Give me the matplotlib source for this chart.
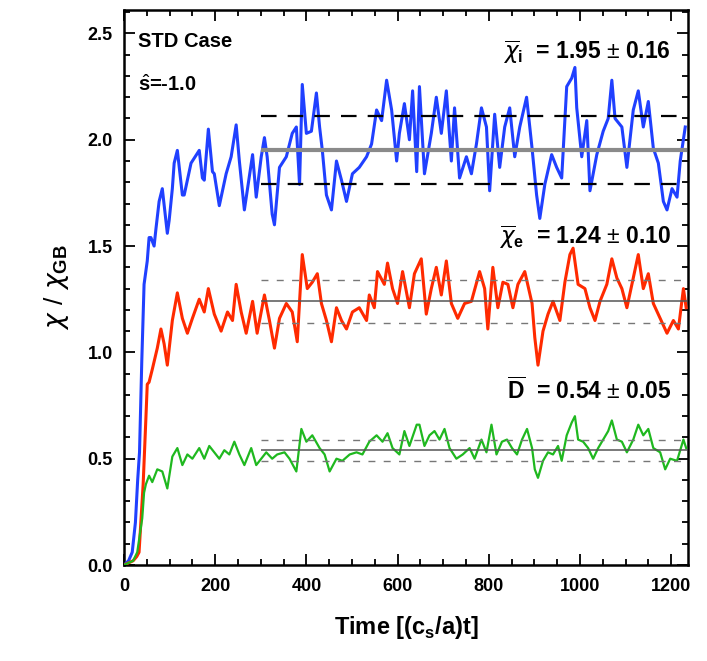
import numpy as np
import matplotlib
matplotlib.use('Agg')
from matplotlib import pyplot as plt
from matplotlib.ticker import MultipleLocator

plt.rcParams['font.family'] = ['Liberation Sans', 'DejaVu Sans']
plt.rcParams['mathtext.fontset'] = 'custom'
plt.rcParams['mathtext.rm'] = 'Liberation Sans'
plt.rcParams['mathtext.bf'] = 'Liberation Sans:bold'

# ion heat diffusivity chi_i / chi_GB
t_chi_i = [0, 10, 18, 25, 30, 34, 39, 44, 51, 55, 59, 66, 70, 77, 84, 95, 99, 106,
           110, 117, 128, 132, 147, 165, 172, 176, 185, 194, 198, 209, 224, 235,
           246, 253, 264, 282, 290, 301, 308, 314, 325, 330, 341, 356, 369, 378,
           385, 391, 400, 411, 422, 429, 435, 444, 455, 466, 477, 488, 501, 516,
           532, 543, 554, 565, 576, 587, 598, 604, 615, 626, 633, 642, 648, 659,
           674, 685, 696, 707, 718, 725, 736, 751, 762, 773, 784, 795, 802, 813,
           824, 835, 846, 857, 868, 883, 895, 905, 912, 923, 938, 949, 960, 971,
           982, 989, 993, 1004, 1015, 1022, 1037, 1051, 1062, 1070, 1077, 1092,
           1103, 1117, 1128, 1139, 1150, 1161, 1172, 1183, 1191, 1202, 1213, 1220,
           1231]
chi_i = [0.0, 0.02, 0.06, 0.2, 0.4, 0.53, 0.96, 1.32, 1.43, 1.54, 1.54, 1.5, 1.58,
         1.71, 1.77, 1.56, 1.62, 1.77, 1.89, 1.95, 1.74, 1.74, 1.89, 1.95, 1.82,
         1.81, 2.05, 1.85, 1.84, 1.69, 1.84, 1.92, 2.07, 1.90, 1.67, 1.93, 1.73,
         1.92, 2.01, 1.92, 1.65, 1.60, 1.87, 1.92, 2.03, 2.06, 1.79, 2.26, 2.03,
         2.04, 2.22, 2.06, 1.95, 1.74, 1.67, 1.90, 1.81, 1.71, 1.84, 1.87, 1.92,
         1.98, 2.14, 2.09, 2.28, 2.14, 1.90, 2.03, 2.17, 2.00, 2.23, 1.85, 2.25,
         1.84, 2.03, 2.20, 2.03, 2.23, 1.90, 2.15, 1.82, 1.92, 1.84, 1.98, 2.15,
         2.06, 1.76, 2.12, 1.87, 2.06, 2.15, 1.92, 2.06, 2.20, 1.96, 1.74, 1.63,
         1.79, 1.93, 1.87, 1.82, 2.25, 2.29, 2.34, 2.15, 1.92, 2.09, 1.76, 1.93,
         2.04, 2.10, 2.28, 2.10, 2.06, 1.87, 2.14, 2.23, 2.06, 2.18, 1.96, 1.89,
         1.71, 1.67, 1.77, 1.73, 1.90, 2.06]

# electron heat diffusivity chi_e / chi_GB
t_chi_e = [0, 10, 20, 28, 33, 42, 48, 51, 55, 62, 73, 81, 88, 95, 106, 117, 128,
           139, 150, 165, 176, 185, 198, 213, 227, 238, 246, 257, 268, 282, 292,
           308, 319, 330, 341, 356, 369, 380, 391, 402, 413, 424, 433, 444, 455,
           466, 477, 488, 501, 516, 532, 538, 549, 556, 571, 578, 589, 600, 611,
           626, 637, 652, 663, 674, 685, 696, 707, 718, 732, 747, 762, 780, 791,
           798, 809, 820, 831, 842, 853, 864, 879, 895, 901, 908, 919, 930, 941,
           956, 967, 978, 985, 996, 1011, 1022, 1033, 1044, 1059, 1070, 1081,
           1092, 1103, 1117, 1128, 1139, 1150, 1161, 1176, 1191, 1205, 1216, 1227,
           1233]
chi_e = [0.0, 0.01, 0.02, 0.04, 0.06, 0.38, 0.69, 0.85, 0.86, 0.92, 1.02, 1.11,
         1.04, 0.94, 1.15, 1.28, 1.16, 1.09, 1.16, 1.25, 1.19, 1.30, 1.18, 1.10,
         1.19, 1.15, 1.32, 1.19, 1.09, 1.24, 1.09, 1.27, 1.15, 1.02, 1.16, 1.23,
         1.19, 1.05, 1.46, 1.30, 1.33, 1.37, 1.23, 1.15, 1.05, 1.21, 1.15, 1.11,
         1.19, 1.21, 1.15, 1.27, 1.21, 1.38, 1.32, 1.42, 1.30, 1.23, 1.38, 1.21,
         1.37, 1.44, 1.18, 1.30, 1.40, 1.27, 1.43, 1.23, 1.16, 1.23, 1.24, 1.38,
         1.30, 1.11, 1.40, 1.21, 1.33, 1.32, 1.21, 1.32, 1.38, 1.23, 1.07, 0.94,
         1.10, 1.18, 1.24, 1.15, 1.33, 1.46, 1.49, 1.32, 1.30, 1.21, 1.15, 1.24,
         1.32, 1.44, 1.35, 1.30, 1.21, 1.35, 1.46, 1.30, 1.37, 1.23, 1.16, 1.09,
         1.15, 1.11, 1.30, 1.21]

# particle diffusivity D / chi_GB
t_d = [0, 10, 20, 29, 40, 44, 48, 55, 62, 73, 84, 95, 106, 117, 128, 139, 150,
       165, 176, 187, 198, 209, 220, 231, 242, 253, 264, 279, 290, 301, 312, 325,
       336, 352, 363, 378, 389, 400, 413, 429, 440, 451, 466, 479, 495, 510, 523,
       538, 554, 567, 578, 589, 604, 615, 626, 642, 648, 659, 670, 681, 692, 703,
       714, 729, 743, 758, 769, 784, 795, 806, 817, 829, 840, 851, 862, 873, 884,
       895, 901, 908, 919, 930, 941, 952, 960, 971, 982, 989, 996, 1007, 1018,
       1029, 1040, 1051, 1062, 1070, 1081, 1092, 1103, 1117, 1128, 1139, 1150,
       1161, 1176, 1187, 1198, 1213, 1227, 1233]
d_val = [0.0, 0.01, 0.02, 0.06, 0.22, 0.34, 0.38, 0.42, 0.39, 0.45, 0.44, 0.36,
         0.51, 0.55, 0.47, 0.52, 0.50, 0.55, 0.50, 0.56, 0.53, 0.50, 0.54, 0.52,
         0.58, 0.52, 0.47, 0.55, 0.47, 0.50, 0.53, 0.50, 0.52, 0.53, 0.50, 0.44,
         0.64, 0.58, 0.61, 0.55, 0.52, 0.44, 0.50, 0.49, 0.52, 0.53, 0.52, 0.58,
         0.61, 0.58, 0.62, 0.55, 0.52, 0.63, 0.56, 0.66, 0.66, 0.56, 0.61, 0.63,
         0.59, 0.64, 0.55, 0.50, 0.52, 0.55, 0.50, 0.59, 0.53, 0.66, 0.52, 0.58,
         0.59, 0.55, 0.52, 0.59, 0.64, 0.55, 0.45, 0.41, 0.49, 0.53, 0.52, 0.56,
         0.49, 0.61, 0.67, 0.70, 0.59, 0.58, 0.55, 0.50, 0.55, 0.59, 0.63, 0.68,
         0.59, 0.58, 0.53, 0.59, 0.66, 0.61, 0.64, 0.55, 0.53, 0.45, 0.50, 0.49,
         0.59, 0.55]

# time averages over the saturated phase (t >= 300)
t_avg_start = 300
t_end = 1235
means = [1.95, 1.24, 0.54]
sigmas = [0.16, 0.10, 0.05]

fig = plt.figure(figsize=(7.07, 6.61), dpi=100)
ax = fig.add_axes([0.1754, 0.1452, 0.7977, 0.8396])

ax.plot(t_chi_i, chi_i, color='#2040ff', lw=2.2, zorder=3)
ax.plot(t_chi_e, chi_e, color='#ff2a00', lw=2.2, zorder=3)
ax.plot(t_d, d_val, color='#1fb81f', lw=1.6, zorder=3)

# mean and +/- sigma bands
ax.hlines(means[0], t_avg_start, t_end, color='#8a8a8a', lw=3, zorder=4)
ax.hlines([means[0] - sigmas[0], means[0] + sigmas[0]], t_avg_start, t_end,
          color='black', lw=1.6, linestyles=(0, (7, 5)), zorder=4)
for m, s in zip(means[1:], sigmas[1:]):
    ax.hlines(m, t_avg_start, t_end, color='#555555', lw=1.1, zorder=4)
    ax.hlines([m - s, m + s], t_avg_start, t_end, color='#777777', lw=1.0,
              linestyles=(0, (5, 6)), zorder=4)

ax.set_xlim(0, 1237)
ax.set_ylim(0, 2.61)
ax.xaxis.set_major_locator(MultipleLocator(200))
ax.xaxis.set_minor_locator(MultipleLocator(50))
ax.yaxis.set_major_locator(MultipleLocator(0.5))
ax.yaxis.set_minor_locator(MultipleLocator(0.1))
ax.yaxis.set_major_formatter(matplotlib.ticker.FormatStrFormatter('%.1f'))
ax.tick_params(which='both', direction='in', top=True, right=True, width=1.3)
ax.tick_params(which='major', length=8, labelsize=13)
ax.tick_params(axis='x', which='major', pad=9)
ax.tick_params(axis='y', which='major', pad=8)
ax.tick_params(which='minor', length=4)
for lab in ax.get_xticklabels() + ax.get_yticklabels():
    lab.set_fontweight('bold')
for sp in ax.spines.values():
    sp.set_linewidth(1.8)

ax.set_xlabel(r'Time [(c$_\mathbf{s}$/a)t]', fontsize=17, fontweight='bold',
              labelpad=14)
ax.set_ylabel(r'$\chi\ /\ \chi_{\mathbf{GB}}$', fontsize=19, labelpad=12)

ax.text(30, 2.46, 'STD Case', fontsize=14.5, fontweight='bold', va='center')
ax.text(30, 2.26, r'$\hat{\mathbf{s}}$=-1.0', fontsize=14.5, fontweight='bold',
        va='center')

ax.text(1200, 2.41, r'$\overline{\chi}_{\mathbf{i}}$  = 1.95 $\pm$ 0.16',
        fontsize=16.5, fontweight='bold', ha='right', va='center')
ax.text(1200, 1.54, r'$\overline{\chi}_{\mathbf{e}}$  = 1.24 $\pm$ 0.10',
        fontsize=16.5, fontweight='bold', ha='right', va='center')
ax.text(1200, 0.82, r'$\overline{\mathbf{D}}$  = 0.54 $\pm$ 0.05',
        fontsize=16.5, fontweight='bold', ha='right', va='center')

fig.savefig('out.png', dpi=100)
